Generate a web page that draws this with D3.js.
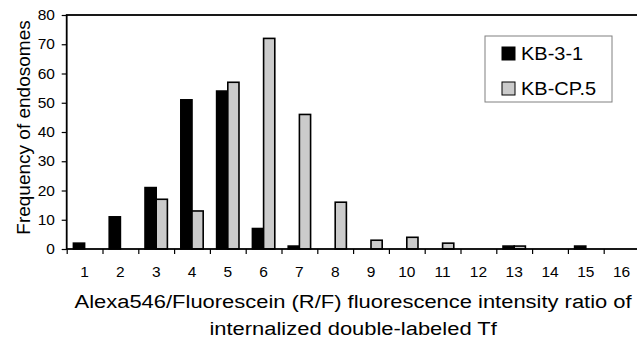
<!DOCTYPE html>
<html>
<head>
<meta charset="utf-8">
<script src="https://cdn.jsdelivr.net/npm/d3@7"></script>
<style>
body { margin: 0; background: #fff; }
svg { display: block; font-family: "Liberation Sans", Arial, sans-serif; }
</style>
</head>
<body>
<div id="freq-chart"></div>
<script>
// data
var categories = [1, 2, 3, 4, 5, 6, 7, 8, 9, 10, 11, 12, 13, 14, 15, 16];
var seriesNames = ["KB-3-1", "KB-CP.5"];
var kb31Counts = [2, 11, 21, 51, 54, 7, 1, 0, 0, 0, 0, 0, 1, 0, 1, 0];
var kbcp5Counts = [0, 0, 17, 13, 57, 72, 46, 16, 3, 4, 2, 0, 1, 0, 0, 0];
var yTicks = [0, 10, 20, 30, 40, 50, 60, 70, 80];
var seriesColors = ["#000000", "#cbcbcb"];

/**
 * Constructor for the endosome frequency chart
 */
function FrequencyChart(){
    var self = this;
    self.init();
};

/**
 * Sets up the svg and the scales
 */
FrequencyChart.prototype.init = function(){
    var self = this;
    self.width = 637;
    self.height = 345;
    self.plot = {left: 66.7, right: 639.5, top: 15, bottom: 249};

    self.svg = d3.select("#freq-chart").append("svg")
        .attr("width", self.width)
        .attr("height", self.height)
        .style("overflow", "hidden");

    self.x = d3.scaleBand()
        .domain(categories)
        .range([self.plot.left, self.plot.right])
        .padding(0);
    //two bars per category, Excel-like gap on both sides
    self.xInner = d3.scaleBand()
        .domain(seriesNames)
        .range([0, self.x.bandwidth()])
        .paddingInner(0)
        .paddingOuter(0.6);
    //edges of the categories, for the tick marks
    self.xEdges = d3.scaleLinear()
        .domain([0, categories.length])
        .range([self.plot.left, self.plot.right]);
    self.y = d3.scaleLinear()
        .domain([0, 80])
        .range([self.plot.bottom, self.plot.top]);
};

/**
 * Draws bars, axes, titles and legend
 */
FrequencyChart.prototype.update = function(){
    var self = this;
    var series = seriesNames.map(function(name, i){
        var vals = i == 0 ? kb31Counts : kbcp5Counts;
        return {name: name, color: seriesColors[i], values: categories.map(function(c, j){
            return {cat: c, value: vals[j]};
        })};
    });

    var groups = self.svg.selectAll(".series")
        .data(series)
        .enter().append("g")
        .attr("class", "series");

    groups.selectAll("rect")
        .data(function(d){
            return d.values.filter(function(v){ return v.value > 0; })
                .map(function(v){ return {name: d.name, color: d.color, cat: v.cat, value: v.value}; });
        })
        .enter().append("rect")
        .attr("x", function(d){ return self.x(d.cat) + self.xInner(d.name); })
        .attr("y", function(d){ return self.y(d.value); })
        .attr("width", self.xInner.bandwidth())
        .attr("height", function(d){ return self.y(0) - self.y(d.value); })
        .attr("fill", function(d){ return d.color; })
        .attr("stroke", "#000")
        .attr("stroke-width", 1.6);

    //y axis
    var yAxis = self.svg.append("g")
        .attr("transform", "translate(" + self.plot.left + ",0)")
        .call(d3.axisLeft(self.y).tickValues(yTicks).tickSize(5).tickPadding(6));
    yAxis.select(".domain").remove();
    yAxis.selectAll("line").attr("stroke", "#000").attr("stroke-width", 1.2);
    yAxis.selectAll("text")
        .attr("fill", "#000")
        .style("font-size", "14.5px")
        .attr("transform", "scale(1.07,1)");

    //x tick marks between the categories
    var xTickAxis = self.svg.append("g")
        .attr("transform", "translate(0," + self.plot.bottom + ")")
        .call(d3.axisBottom(self.xEdges).tickValues(d3.range(0, categories.length + 1)).tickSize(5).tickFormat(""));
    xTickAxis.select(".domain").remove();
    xTickAxis.selectAll("line").attr("stroke", "#000").attr("stroke-width", 1.2);

    //x labels in the middle of the categories
    var xAxis = self.svg.append("g")
        .attr("transform", "translate(0," + self.plot.bottom + ")")
        .call(d3.axisBottom(self.x).tickSize(0).tickPadding(18));
    xAxis.select(".domain").remove();
    xAxis.selectAll("text")
        .attr("fill", "#000")
        .style("font-size", "14.5px")
        .attr("transform", "scale(1.07,1)");

    //plot frame
    self.svg.append("rect")
        .attr("x", self.plot.left)
        .attr("y", self.plot.top)
        .attr("width", self.plot.right - self.plot.left)
        .attr("height", self.plot.bottom - self.plot.top)
        .attr("fill", "none")
        .attr("stroke", "#000")
        .attr("stroke-width", 1.8);

    //axis titles
    self.svg.append("text")
        .attr("transform", "translate(30,127.5) rotate(-90)")
        .style("text-anchor", "middle")
        .style("font-size", "19px")
        .text("Frequency of endosomes");

    var xTitle = ["Alexa546/Fluorescein (R/F) fluorescence intensity ratio of", "internalized double-labeled Tf"];
    var titleX = (self.plot.left + self.plot.right) / 2;
    self.svg.selectAll(".xtitle")
        .data(xTitle)
        .enter().append("text")
        .attr("class", "xtitle")
        .attr("transform", function(d, i){ return "translate(" + titleX + "," + (308 + i*27) + ") scale(1.18,1)"; })
        .style("text-anchor", "middle")
        .style("font-size", "18.6px")
        .text(function(d){ return d; });

    //legend
    var legend = self.svg.append("g").attr("transform", "translate(485,36)");
    legend.append("rect")
        .attr("width", 127)
        .attr("height", 66)
        .attr("fill", "#fff")
        .attr("stroke", "#808080")
        .attr("stroke-width", 1);
    var items = legend.selectAll(".item")
        .data(series)
        .enter().append("g")
        .attr("class", "item")
        .attr("transform", function(d, i){ return "translate(17," + (11 + i*35) + ")"; });
    items.append("rect")
        .attr("width", 13)
        .attr("height", 13)
        .attr("fill", function(d){ return d.color; })
        .attr("stroke", "#000")
        .attr("stroke-width", 1);
    items.append("text")
        .attr("transform", "translate(19,13) scale(1.08,1)")
        .style("font-size", "18.5px")
        .text(function(d){ return d.name; });
};

var chart = new FrequencyChart();
chart.update();
</script>
</body>
</html>
